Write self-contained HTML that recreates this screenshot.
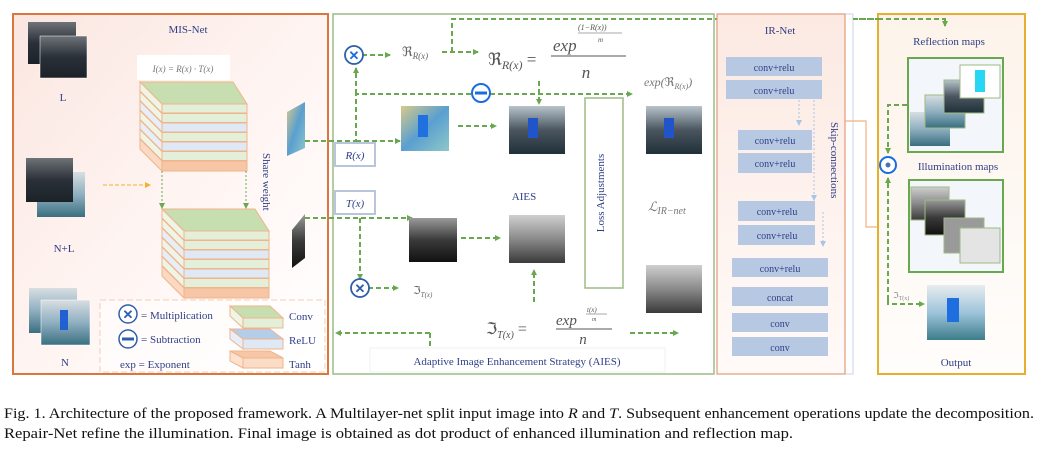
<!DOCTYPE html>
<html><head><meta charset="utf-8"><style>
html,body{margin:0;padding:0;background:#fff;}
svg{display:block;}
text{font-family:"Liberation Serif",serif;}
</style></head><body>
<svg width="1037" height="464" viewBox="0 0 1037 464" xmlns="http://www.w3.org/2000/svg">
<defs>
<linearGradient id="pk" x1="0" y1="0" x2="1" y2="1"><stop offset="0" stop-color="#fbe6e0"/><stop offset="0.6" stop-color="#fff7f5"/><stop offset="1" stop-color="#ffffff"/></linearGradient>
<linearGradient id="pk2" x1="0" y1="0" x2="0" y2="1"><stop offset="0" stop-color="#fce9e2"/><stop offset="1" stop-color="#fffaf8"/></linearGradient>
<linearGradient id="ye" x1="0" y1="0" x2="0" y2="1"><stop offset="0" stop-color="#fdf3ea"/><stop offset="1" stop-color="#fffdfb"/></linearGradient>
<linearGradient id="photo" x1="0" y1="0" x2="0" y2="1"><stop offset="0" stop-color="#b8c4cc"/><stop offset="0.5" stop-color="#4a5560"/><stop offset="1" stop-color="#203038"/></linearGradient>
<linearGradient id="dark" x1="0" y1="0" x2="0" y2="1"><stop offset="0" stop-color="#6d7377"/><stop offset="0.5" stop-color="#2b3038"/><stop offset="1" stop-color="#1a2228"/></linearGradient>
<linearGradient id="bright" x1="0" y1="0" x2="0" y2="1"><stop offset="0" stop-color="#d8dee2"/><stop offset="0.5" stop-color="#8fb0c0"/><stop offset="1" stop-color="#3a6f80"/></linearGradient>
<linearGradient id="gray" x1="0" y1="0" x2="0" y2="1"><stop offset="0" stop-color="#cfcfcf"/><stop offset="0.5" stop-color="#8a8a8a"/><stop offset="1" stop-color="#3a3a3a"/></linearGradient>
<linearGradient id="grayd" x1="0" y1="0" x2="0" y2="1"><stop offset="0" stop-color="#9a9a9a"/><stop offset="0.5" stop-color="#3a3a3a"/><stop offset="1" stop-color="#111"/></linearGradient>
<linearGradient id="refl" x1="0" y1="0" x2="1" y2="1"><stop offset="0" stop-color="#d7c98a"/><stop offset="0.5" stop-color="#5a9fd0"/><stop offset="1" stop-color="#8fc8c8"/></linearGradient>
<linearGradient id="outp" x1="0" y1="0" x2="0" y2="1"><stop offset="0" stop-color="#e8ecee"/><stop offset="0.5" stop-color="#9ec4dc"/><stop offset="1" stop-color="#3d7d8a"/></linearGradient>
<g id="stack">
<polygon points="0,0 93,0 107,22 22,22" fill="#c7deb0" stroke="#f0b48a" stroke-width="1"/>
<polygon points="0,0 22,22 22,31 0,9" fill="#eef5e6" stroke="#f0b48a"/><rect x="22" y="22" width="85" height="9" fill="#e3efd8" stroke="#f0b48a"/>
<polygon points="0,9.5 22,31.5 22,40.5 0,18.5" fill="#eef5e6" stroke="#f0b48a"/><rect x="22" y="31.5" width="85" height="9" fill="#e3efd8" stroke="#f0b48a"/>
<polygon points="0,19 22,41 22,50 0,28" fill="#e8eef8" stroke="#f0b48a"/><rect x="22" y="41" width="85" height="9" fill="#dfe8f5" stroke="#f0b48a"/>
<polygon points="0,28.5 22,50.5 22,59.5 0,37.5" fill="#eef5e6" stroke="#f0b48a"/><rect x="22" y="50.5" width="85" height="9" fill="#e3efd8" stroke="#f0b48a"/>
<polygon points="0,38 22,60 22,69 0,47" fill="#e8eef8" stroke="#f0b48a"/><rect x="22" y="60" width="85" height="9" fill="#dfe8f5" stroke="#f0b48a"/>
<polygon points="0,47.5 22,69.5 22,78.5 0,56.5" fill="#eef5e6" stroke="#f0b48a"/><rect x="22" y="69.5" width="85" height="9" fill="#e3efd8" stroke="#f0b48a"/>
<polygon points="0,57 22,79 22,89 0,67" fill="#fbd9c2" stroke="#f0b48a"/><rect x="22" y="79" width="85" height="10" fill="#f6c6a6" stroke="#f0b48a"/>
</g>
<marker id="ag" markerWidth="6" markerHeight="6" refX="5" refY="3" orient="auto" markerUnits="userSpaceOnUse"><path d="M0,0 L6,3 L0,6z" fill="#6aa84f"/></marker>
<marker id="ao" markerWidth="6" markerHeight="6" refX="5" refY="3" orient="auto" markerUnits="userSpaceOnUse"><path d="M0,0 L6,3 L0,6z" fill="#f2b134"/></marker>
<marker id="ab" markerWidth="6" markerHeight="6" refX="5" refY="3" orient="auto" markerUnits="userSpaceOnUse"><path d="M0,0 L6,3 L0,6z" fill="#a9c4e6"/></marker>
<marker id="ap" markerWidth="7" markerHeight="7" refX="6" refY="3.5" orient="auto" markerUnits="userSpaceOnUse"><path d="M0,0 L7,3.5 L0,7" fill="none" stroke="#f4b183"/></marker>
</defs>

<!-- MIS-Net box -->
<rect x="13" y="14" width="315" height="360" fill="url(#pk)" stroke="#d9773f" stroke-width="2"/>
<text x="188" y="33" font-size="11" fill="#2f3f86" text-anchor="middle">MIS-Net</text>
<rect x="28" y="22" width="48" height="42" fill="url(#dark)"/>
<rect x="40" y="36" width="47" height="42" fill="url(#dark)" stroke="#fff" stroke-width="0.5"/>
<text x="63" y="101" font-size="11" fill="#2f3f86" text-anchor="middle">L</text>
<rect x="37" y="172" width="48" height="45" fill="url(#bright)"/>
<rect x="26" y="158" width="47" height="44" fill="url(#dark)"/>
<text x="64" y="252" font-size="11" fill="#2f3f86" text-anchor="middle">N+L</text>
<rect x="29" y="288" width="48" height="45" fill="url(#bright)"/>
<rect x="41" y="300" width="49" height="45" fill="url(#bright)" stroke="#fff" stroke-width="0.5"/>
<rect x="60" y="310" width="8" height="20" fill="#2060d0"/>
<text x="65" y="366" font-size="11" fill="#2f3f86" text-anchor="middle">N</text>
<rect x="137" y="55" width="93" height="25" fill="#fff"/>
<text x="183" y="72" font-size="9" fill="#777" text-anchor="middle" font-style="italic">I(x) = R(x) · T(x)</text>
<use href="#stack" x="140" y="82"/>
<use href="#stack" x="162" y="209"/>
<line x1="162" y1="171" x2="162" y2="208" stroke="#6aa84f" stroke-dasharray="2,2" marker-end="url(#ag)"/>
<line x1="246" y1="171" x2="246" y2="208" stroke="#6aa84f" stroke-dasharray="2,2" marker-end="url(#ag)"/>
<line x1="103" y1="185" x2="150" y2="185" stroke="#f2b134" stroke-dasharray="4,2" marker-end="url(#ao)"/>
<text x="263" y="153" font-size="11" fill="#2f3f86" transform="rotate(90 263 153)">Share weight</text>
<polygon points="287,112 305,102 305,148 287,156" fill="url(#refl)"/>
<polygon points="292,230 305,214 305,258 292,268" fill="url(#grayd)"/>
<!-- legend -->
<rect x="100" y="300" width="225" height="72" fill="#fff" fill-opacity="0.5" stroke="#f6cdb4" stroke-dasharray="6,3"/>
<circle cx="128" cy="314" r="9" fill="#fff" stroke="#2e5fa8" stroke-width="1.5"/><text x="128" y="319" font-size="13" fill="#2e5fa8" text-anchor="middle" font-weight="bold" font-family="Liberation Sans">✕</text>
<text x="141" y="319" font-size="11" fill="#2f3f86">= Multiplication</text>
<circle cx="128" cy="339" r="9" fill="#fff" stroke="#2e5fa8" stroke-width="1.5"/><rect x="122" y="337.5" width="12" height="3" fill="#2e5fa8"/>
<text x="141" y="343" font-size="11" fill="#2f3f86">= Subtraction</text>
<text x="120" y="368" font-size="11" fill="#2f3f86">exp = Exponent</text>
<polygon points="230,306 270,306 283,318 243,318" fill="#c7deb0" stroke="#f0b48a"/><polygon points="230,306 243,318 243,328 230,316" fill="#eef5e6" stroke="#f0b48a"/><rect x="243" y="318" width="40" height="10" fill="#e3efd8" stroke="#f0b48a"/>
<polygon points="230,329 270,329 283,339 243,339" fill="#b4cde8" stroke="#f0b48a"/><polygon points="230,329 243,339 243,349 230,339" fill="#e8eef8" stroke="#f0b48a"/><rect x="243" y="339" width="40" height="10" fill="#dfe8f5" stroke="#f0b48a"/>
<polygon points="230,351 270,351 283,358 243,358" fill="#f6c6a6" stroke="#f0b48a"/><polygon points="230,351 243,358 243,368 230,361" fill="#fde2d0" stroke="#f0b48a"/><rect x="243" y="358" width="40" height="10" fill="#fbdcc6" stroke="#f0b48a"/>
<text x="289" y="320" font-size="11" fill="#2f3f86">Conv</text>
<text x="289" y="344" font-size="11" fill="#2f3f86">ReLU</text>
<text x="289" y="368" font-size="11" fill="#2f3f86">Tanh</text>

<!-- AIES box -->
<rect x="333" y="14" width="381" height="360" fill="#fff" stroke="#9dbb85" stroke-width="1.5"/>
<g fill="none" stroke="#6aa84f" stroke-width="2" stroke-dasharray="5,3">
<polyline points="452,52 452,19 945,19 945,26" marker-end="url(#ag)"/>
<polyline points="362,55 390,55" marker-end="url(#ag)"/>
<polyline points="442,52 478,52" marker-end="url(#ag)"/>
<polyline points="305,141 356,141 356,94 632,94" marker-end="url(#ag)"/>
<line x1="356" y1="94" x2="356" y2="68" marker-end="url(#ag)"/>
<line x1="356" y1="141" x2="400" y2="141" marker-end="url(#ag)"/>
<line x1="539" y1="81" x2="539" y2="104" marker-end="url(#ag)"/>
<line x1="458" y1="126" x2="496" y2="126" marker-end="url(#ag)"/>
<polyline points="305,218 412,218" marker-end="url(#ag)"/>
<polyline points="360,218 360,279" marker-end="url(#ag)"/>
<line x1="368" y1="288" x2="398" y2="288" marker-end="url(#ag)"/>
<line x1="461" y1="238" x2="500" y2="238" marker-end="url(#ag)"/>
<line x1="534" y1="302" x2="534" y2="270" marker-end="url(#ag)"/>
<line x1="630" y1="333" x2="678" y2="333" marker-end="url(#ag)"/>
<polyline points="430,333 336,333" marker-end="url(#ag)"/>
<line x1="430" y1="333" x2="430" y2="372"/>
</g>
<circle cx="354" cy="55" r="9" fill="#fff" stroke="#2e5fa8" stroke-width="1.8"/><text x="354" y="60" font-size="13" fill="#1a6de0" text-anchor="middle" font-weight="bold" font-family="Liberation Sans">✕</text>
<circle cx="481" cy="93" r="9" fill="#fff" stroke="#1a6de0" stroke-width="2"/><rect x="475" y="91.5" width="12" height="3" fill="#1a6de0"/>
<circle cx="360" cy="288" r="9" fill="#fff" stroke="#2e5fa8" stroke-width="1.8"/><text x="360" y="293" font-size="13" fill="#2e5fa8" text-anchor="middle" font-weight="bold" font-family="Liberation Sans">✕</text>
<text x="402" y="56" font-size="13" fill="#666" font-family="DejaVu Serif">ℜ<tspan font-size="9" dy="3" font-style="italic">R(x)</tspan></text>
<text x="488" y="65" font-size="17" fill="#555" font-family="DejaVu Serif">ℜ<tspan font-size="12" dy="4" font-style="italic">R(x)</tspan><tspan dy="-4"> =</tspan></text>
<text x="553" y="51" font-size="17" fill="#555" font-style="italic">exp</text>
<text x="578" y="30" font-size="8" fill="#555" font-style="italic">(1−R(x))</text>
<line x1="578" y1="33" x2="622" y2="33" stroke="#555" stroke-width="0.6"/>
<text x="598" y="42" font-size="7" fill="#555" font-style="italic">m</text>
<line x1="551" y1="56" x2="626" y2="56" stroke="#555" stroke-width="1"/>
<text x="586" y="78" font-size="17" fill="#555" font-style="italic" text-anchor="middle">n</text>
<text x="644" y="86" font-size="12" fill="#777" font-style="italic">exp(<tspan font-family="DejaVu Serif" font-style="normal">ℜ</tspan><tspan font-size="8" dy="3">R(x)</tspan><tspan dy="-3">)</tspan></text>
<rect x="401" y="106" width="48" height="45" fill="url(#refl)"/><rect x="418" y="115" width="10" height="22" fill="#2070e0"/>
<rect x="509" y="106" width="56" height="48" fill="url(#photo)"/><rect x="528" y="118" width="10" height="20" fill="#1f55c8"/>
<rect x="646" y="106" width="56" height="48" fill="url(#photo)"/><rect x="664" y="118" width="10" height="20" fill="#1f55c8"/>
<rect x="335" y="143" width="40" height="23" fill="#fff" stroke="#b8c5dc" stroke-width="2"/><text x="355" y="159" font-size="11" fill="#2f3f86" text-anchor="middle" font-style="italic">R(x)</text>
<rect x="335" y="191" width="40" height="23" fill="#fff" stroke="#b8c5dc" stroke-width="2"/><text x="355" y="207" font-size="11" fill="#2f3f86" text-anchor="middle" font-style="italic">T(x)</text>
<text x="524" y="200" font-size="11" fill="#2f3f86" text-anchor="middle">AIES</text>
<rect x="409" y="218" width="48" height="44" fill="url(#grayd)"/>
<rect x="509" y="215" width="56" height="48" fill="url(#gray)"/>
<rect x="585" y="98" width="38" height="190" fill="#fff" stroke="#9dbb85" stroke-width="1.5"/>
<text x="604" y="193" font-size="11" fill="#2f3f86" text-anchor="middle" transform="rotate(-90 604 193)">Loss Adjustments</text>
<text x="648" y="211" font-size="13" fill="#777" font-style="italic" font-family="DejaVu Serif">ℒ<tspan font-size="10" dy="3">IR−net</tspan></text>
<rect x="646" y="265" width="56" height="48" fill="url(#gray)"/>
<text x="413" y="294" font-size="11" fill="#666" font-family="DejaVu Serif">ℑ<tspan font-size="7" dy="3" font-style="italic">T(x)</tspan></text>
<text x="486" y="334" font-size="16" fill="#555" font-family="DejaVu Serif">ℑ<tspan font-size="10" dy="4" font-style="italic">T(x)</tspan><tspan dy="-4"> =</tspan></text>
<text x="556" y="325" font-size="15" fill="#555" font-style="italic">exp</text>
<text x="587" y="312" font-size="7" fill="#555" font-style="italic">t(x)</text>
<line x1="586" y1="314" x2="607" y2="314" stroke="#555" stroke-width="0.6"/>
<text x="592" y="321" font-size="6" fill="#555" font-style="italic">m</text>
<line x1="556" y1="329" x2="612" y2="329" stroke="#555" stroke-width="1"/>
<text x="583" y="344" font-size="15" fill="#555" font-style="italic" text-anchor="middle">n</text>
<rect x="370" y="348" width="295" height="24" fill="#fff" stroke="#eef2f6"/>
<text x="517" y="365" font-size="11" fill="#2f3f86" text-anchor="middle">Adaptive Image Enhancement Strategy (AIES)</text>

<!-- IR-Net -->
<rect x="845" y="14" width="8" height="360" fill="#fff" stroke="#c9d6ea"/>
<rect x="717" y="14" width="128" height="360" fill="url(#pk2)" stroke="#e39a7a" stroke-width="1.2"/>
<text x="780" y="34" font-size="11" fill="#2f3f86" text-anchor="middle">IR-Net</text>
<g fill="#b7c9e2">
<rect x="726" y="57" width="96" height="19"/><rect x="726" y="80" width="96" height="19"/>
<rect x="738" y="130" width="74" height="20"/><rect x="738" y="153" width="74" height="20"/>
<rect x="738" y="201" width="77" height="20"/><rect x="738" y="225" width="77" height="20"/>
<rect x="732" y="258" width="96" height="19"/><rect x="732" y="287" width="96" height="19"/>
<rect x="732" y="313" width="96" height="19"/><rect x="732" y="337" width="96" height="19"/>
</g>
<g font-size="10" fill="#2f3f86" text-anchor="middle">
<text x="774" y="71">conv+relu</text><text x="774" y="94">conv+relu</text>
<text x="775" y="144">conv+relu</text><text x="775" y="167">conv+relu</text>
<text x="777" y="215">conv+relu</text><text x="777" y="239">conv+relu</text>
<text x="780" y="272">conv+relu</text><text x="780" y="301">concat</text>
<text x="780" y="327">conv</text><text x="780" y="351">conv</text>
</g>
<g stroke="#a9c4e6" stroke-dasharray="2,2" fill="none">
<line x1="799" y1="100" x2="799" y2="125" marker-end="url(#ab)"/>
<line x1="814" y1="100" x2="814" y2="200" marker-end="url(#ab)"/>
<line x1="823" y1="212" x2="823" y2="246" marker-end="url(#ab)"/>
</g>
<text x="831" y="122" font-size="11" fill="#2f3f86" transform="rotate(90 831 122)">Skip-connections</text>
<polyline points="845,121 866,121 866,227 907,227" fill="none" stroke="#f4b183" stroke-width="1.2" marker-end="url(#ap)"/>

<!-- Output box -->
<rect x="878" y="14" width="147" height="360" fill="url(#ye)" stroke="#e5b030" stroke-width="2"/>
<polyline points="853,19 878,19" fill="none" stroke="#6aa84f" stroke-width="2" stroke-dasharray="5,3"/>
<polyline points="878,19 945,19 945,26" fill="none" stroke="#6aa84f" stroke-width="2" stroke-dasharray="5,3" marker-end="url(#ag)"/>
<text x="949" y="45" font-size="11" fill="#2f3f86" text-anchor="middle">Reflection maps</text>
<rect x="908" y="58" width="95" height="94" fill="#f3f6fa" stroke="#6aa84f" stroke-width="2"/>
<rect x="910" y="112" width="40" height="34" fill="url(#bright)"/>
<rect x="925" y="95" width="40" height="33" fill="url(#bright)" stroke="#9dbb85"/>
<rect x="944" y="80" width="40" height="33" fill="url(#photo)" stroke="#9dbb85"/>
<rect x="960" y="65" width="40" height="33" fill="#fff" stroke="#9dbb85"/>
<rect x="975" y="70" width="10" height="22" fill="#27d6f2"/>
<text x="958" y="170" font-size="11" fill="#2f3f86" text-anchor="middle">Illumination maps</text>
<rect x="909" y="180" width="94" height="92" fill="#f3f6fa" stroke="#6aa84f" stroke-width="2"/>
<rect x="911" y="187" width="38" height="33" fill="url(#gray)" stroke="#9dbb85"/>
<rect x="925" y="200" width="40" height="35" fill="url(#grayd)" stroke="#9dbb85"/>
<rect x="944" y="218" width="40" height="35" fill="#9a9a9a" stroke="#9dbb85"/>
<rect x="960" y="228" width="40" height="35" fill="#e4e4e4" stroke="#9dbb85"/>
<g fill="none" stroke="#6aa84f" stroke-width="2" stroke-dasharray="5,3">
<polyline points="907,105 888,105 888,153" marker-end="url(#ag)"/>
<line x1="888" y1="300" x2="888" y2="178" marker-end="url(#ag)"/>
<polyline points="888,300 888,304 924,304" marker-end="url(#ag)"/>
</g>
<circle cx="888" cy="165" r="8" fill="#fff" stroke="#1a6de0" stroke-width="2"/><circle cx="888" cy="165" r="2.5" fill="#4b6fb8"/>
<text x="893" y="298" font-size="8" fill="#888" font-family="DejaVu Serif">ℑ<tspan font-size="6" dy="2">T(x)</tspan></text>
<rect x="927" y="285" width="58" height="55" fill="url(#outp)"/><rect x="947" y="298" width="12" height="24" fill="#1f6ee0"/>
<text x="956" y="366" font-size="11" fill="#2f3f86" text-anchor="middle">Output</text>

<!-- caption -->
<text x="4" y="418" font-size="14.5" fill="#111" textLength="1030" lengthAdjust="spacingAndGlyphs">Fig. 1.  Architecture of the proposed framework. A Multilayer-net split input image into <tspan font-style="italic">R</tspan> and <tspan font-style="italic">T</tspan>. Subsequent enhancement operations update the decomposition.</text>
<text x="4" y="438" font-size="14.5" fill="#111" textLength="789" lengthAdjust="spacingAndGlyphs">Repair-Net refine the illumination. Final image is obtained as dot product of enhanced illumination and reflection map.</text>
</svg>
</body></html>
